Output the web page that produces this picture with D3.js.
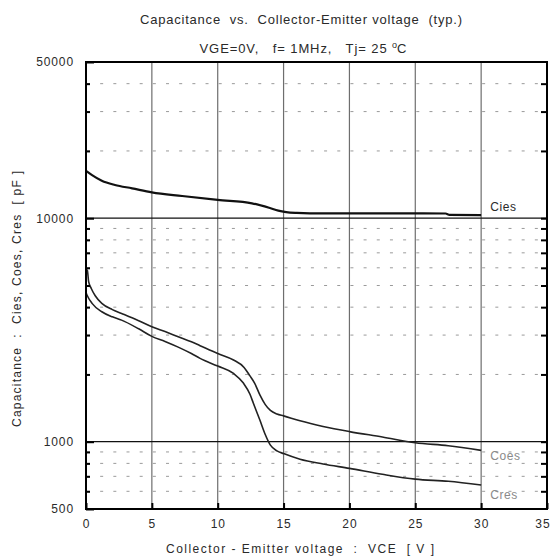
<!DOCTYPE html>
<html>
<head>
<meta charset="utf-8">
<script src="https://cdn.jsdelivr.net/npm/d3@7/dist/d3.min.js"></script>
<style>
  html, body { margin: 0; padding: 0; background: #fff; }
  svg { display: block; }
  text { font-family: "Liberation Sans", Arial, Helvetica, sans-serif; fill: #2a2a2a; white-space: pre; }
</style>
</head>
<body>
<svg id="chart" width="550" height="559"></svg>
<script>
// Collector-emitter voltage samples [V] and capacitances [pF] per curve
const ciesV = [0, 0.46, 1.2, 2.2, 3.5, 5, 7.3, 10, 12.6, 13.9, 14.6, 15.2, 16, 17, 20, 25, 27.3, 27.6, 30];
const ciesC = [16300, 15600, 14720, 14090, 13610, 13060, 12570, 12070, 11660, 11140, 10810, 10650, 10560, 10520, 10520, 10510, 10500, 10350, 10330];

const coesV = [0, 0.1, 0.2, 0.4, 0.7, 1.2, 2, 2.7, 4, 5, 6, 7, 8, 8.66, 10, 11.2, 12, 12.45, 12.8, 13.2, 13.6, 14, 14.5, 15, 16.25, 18, 20, 22.5, 25, 27.5, 30];
const coesC = [5900, 5850, 5200, 4850, 4500, 4160, 3900, 3750, 3480, 3270, 3110, 2950, 2800, 2690, 2480, 2320, 2150, 1970, 1830, 1620, 1470, 1380, 1330, 1305, 1240, 1170, 1110, 1050, 990, 960, 915];

const cresV = [0, 0.1, 0.46, 1.2, 2, 2.7, 4, 5, 6, 7, 8, 8.66, 10, 11.2, 11.95, 12.45, 12.7, 13.2, 13.6, 14, 14.5, 15, 16.25, 18, 20, 22.5, 25, 27.5, 30];
const cresC = [4650, 4500, 4160, 3815, 3620, 3500, 3200, 2960, 2810, 2650, 2480, 2360, 2180, 2020, 1830, 1630, 1490, 1250, 1080, 965, 910, 885, 835, 795, 760, 715, 680, 665, 640];

const seriesNames = ["Cies", "Coes", "Cres"];

// Axis ticks
const xTicks = [0, 5, 10, 15, 20, 25, 30, 35];
const xGrid = [5, 10, 15, 20, 25, 30];
const yLabelled = [500, 1000, 10000, 50000];
const ySolid = [1000, 10000];
const yMinor = [600, 700, 800, 900, 2000, 3000, 4000, 5000, 6000, 7000, 8000, 9000, 20000, 30000, 40000];
const dotSteps = d3.range(0, 35, 1);

const svg = d3.select("#chart");
const plotL = 86, plotR = 547, plotT = 62, plotB = 509;

const x = d3.scaleLinear().domain([0, 35]).range([plotL, plotR]);
const y = d3.scaleLog().domain([500, 50000]).range([plotB, plotT]);

// Dotted minor grid: short dashes at every volt
const dots = svg.append("g");
yMinor.forEach(v => {
  dots.selectAll(null).data(dotSteps).enter().append("line")
    .attr("x1", d => x(d) + 1).attr("x2", d => x(d) + 4)
    .attr("y1", y(v)).attr("y2", y(v))
    .attr("stroke", "#9a9a9a").attr("stroke-width", 1);
});

// Vertical grid lines
svg.append("g").selectAll("line").data(xGrid).enter().append("line")
  .attr("x1", d => x(d)).attr("x2", d => x(d))
  .attr("y1", plotT).attr("y2", plotB)
  .attr("stroke", "#6e6e6e").attr("stroke-width", 1.2);

// Solid decade lines
svg.append("g").selectAll("line").data(ySolid).enter().append("line")
  .attr("x1", plotL).attr("x2", plotR)
  .attr("y1", d => y(d)).attr("y2", d => y(d))
  .attr("stroke", "#111").attr("stroke-width", 1.2);

// Curves
const line = d3.line().x(d => x(d[0])).y(d => y(d[1])).curve(d3.curveMonotoneX);
const zip = (a, b) => a.map((v, i) => [v, b[i]]);
svg.append("path").datum(zip(ciesV, ciesC)).attr("d", line)
  .attr("fill", "none").attr("stroke", "#111").attr("stroke-width", 2.2);
svg.append("path").datum(zip(coesV, coesC)).attr("d", line)
  .attr("fill", "none").attr("stroke", "#222").attr("stroke-width", 1.6);
svg.append("path").datum(zip(cresV, cresC)).attr("d", line)
  .attr("fill", "none").attr("stroke", "#222").attr("stroke-width", 1.6);

// Curve names at the right end
const ends = [ciesC[ciesC.length - 1], coesC[coesC.length - 1], cresC[cresC.length - 1]];
const nameDy = [-8, 6, 10];
const nameFill = ["#2a2a2a", "#8a8a8a", "#8a8a8a"];
seriesNames.forEach((n, i) => {
  svg.append("text").attr("x", x(30) + 9).attr("y", y(ends[i]) + nameDy[i] + 4)
    .attr("font-size", 12).attr("letter-spacing", 0.6).style("fill", nameFill[i]).text(n);
});

// Frame
svg.append("rect").attr("x", plotL).attr("y", plotT)
  .attr("width", plotR - plotL).attr("height", plotB - plotT)
  .attr("fill", "none").attr("stroke", "#000").attr("stroke-width", 2);

// Left axis: labels and inward ticks
const yAxis = d3.axisLeft(y).tickValues(yLabelled).tickFormat(d3.format("d"))
  .tickSizeInner(-8).tickSizeOuter(0).tickPadding(12);
const gy = svg.append("g").attr("transform", `translate(${plotL},0)`).call(yAxis);
gy.select(".domain").remove();
gy.selectAll(".tick line").attr("stroke", "#000").attr("stroke-width", 2);
gy.selectAll(".tick text").attr("font-size", 12).attr("font-family", null)
  .attr("letter-spacing", 0.9).style("fill", "#2a2a2a");

const yMinorL = d3.axisLeft(y).tickValues(yMinor).tickFormat("").tickSizeInner(-4).tickSizeOuter(0);
const gyl = svg.append("g").attr("transform", `translate(${plotL},0)`).call(yMinorL);
gyl.select(".domain").remove();
gyl.selectAll(".tick line").attr("stroke", "#000").attr("stroke-width", 2);

const yMinorR = d3.axisRight(y).tickValues(yMinor.concat(ySolid)).tickFormat("").tickSizeInner(-6).tickSizeOuter(0);
const gyr = svg.append("g").attr("transform", `translate(${plotR},0)`).call(yMinorR);
gyr.select(".domain").remove();
gyr.selectAll(".tick line").attr("stroke", "#000").attr("stroke-width", 2);

// Bottom axis
const xAxis = d3.axisBottom(x).tickValues(xTicks).tickFormat(d3.format("d"))
  .tickSizeInner(-6).tickSizeOuter(0).tickPadding(10);
const gx = svg.append("g").attr("transform", `translate(0,${plotB})`).call(xAxis);
gx.select(".domain").remove();
gx.selectAll(".tick line").attr("stroke", "#000").attr("stroke-width", 2);
gx.selectAll(".tick text").attr("font-size", 12).attr("font-family", null)
  .attr("letter-spacing", 0.9).style("fill", "#2a2a2a");
// last label sits against the page edge
gx.selectAll(".tick text").filter(d => d === 35).attr("text-anchor", "end").attr("x", 550 - plotR);

// Titles
svg.append("text").attr("x", 301).attr("y", 24).attr("text-anchor", "middle")
  .attr("font-size", 13).attr("textLength", 322).attr("lengthAdjust", "spacing")
  .text("Capacitance  vs.  Collector-Emitter voltage  (typ.)");
const t2 = svg.append("text").attr("x", 303).attr("y", 53).attr("text-anchor", "middle").attr("font-size", 13);
t2.append("tspan").attr("letter-spacing", 0.9).text("VGE=0V,   f= 1MHz,   Tj= 25 ");
t2.append("tspan").attr("font-size", 9).attr("dy", -5).text("o");
t2.append("tspan").attr("dy", 5).text("C");

svg.append("text").attr("x", 300).attr("y", 553).attr("text-anchor", "middle")
  .attr("font-size", 12).attr("textLength", 268).attr("lengthAdjust", "spacing")
  .text("Collector - Emitter voltage  :  VCE  [ V ]");
svg.append("text").attr("transform", "translate(21,299) rotate(-90)").attr("text-anchor", "middle")
  .attr("font-size", 12).attr("textLength", 256).attr("lengthAdjust", "spacing")
  .text("Capacitance  :  Cies, Coes, Cres  [ pF ]");
</script>
</body>
</html>
